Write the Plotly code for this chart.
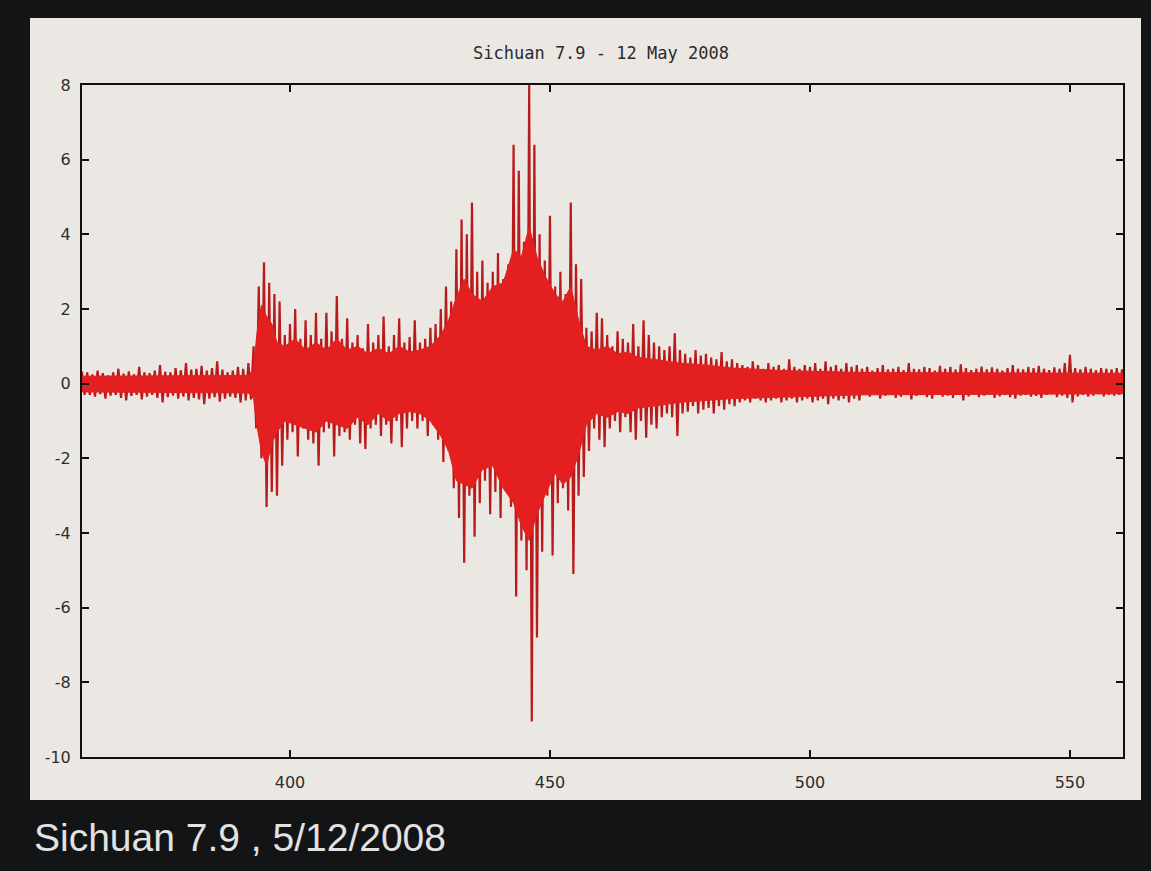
import plotly.graph_objects as go

# Sampling seconds (one spike pair per second, t = 360 ... 560)
t_start = 360
t_step = 1.0

# Upper spike peaks, one per second
upper = [
    # 360-392 pre-event noise
    0.32,
    0.30, 0.25, 0.35, 0.28, 0.22, 0.30, 0.40, 0.27, 0.33, 0.25, 0.45, 0.30, 0.28, 0.35, 0.50, 0.32,
    0.30, 0.42, 0.36, 0.55, 0.38, 0.40, 0.48, 0.35, 0.42, 0.60, 0.38, 0.30, 0.35, 0.45, 0.40, 0.55,
    # 393-409 first arrival
    1.00, 2.60, 3.25, 2.70, 2.40, 2.20, 1.30, 1.60, 2.00, 1.20, 1.70, 1.30, 1.90, 1.20, 1.90, 1.40, 2.35,
    # 410-428
    1.20, 1.75, 1.10, 1.30, 0.95, 1.60, 1.10, 1.30, 1.80, 1.00, 1.30, 1.75, 1.10, 1.25, 1.70, 1.10,
    1.20, 1.50, 1.60,
    # 429-459 main shaking
    2.00, 2.60, 2.20, 3.60, 4.40, 4.00, 4.85, 3.00, 3.30, 2.70, 3.00, 3.50, 2.80, 3.20, 6.40, 5.70,
    3.80, 8.00, 6.40, 4.00, 3.30, 4.50, 2.60, 3.00, 2.40, 4.85, 3.20, 2.80, 1.50, 1.40, 1.90,
    # 460-475
    1.75, 1.30, 1.00, 1.40, 1.20, 1.10, 1.60, 1.00, 1.70, 1.30, 1.10, 1.00, 0.90, 1.00, 1.35, 0.90,
    # 476-485
    0.80, 0.70, 0.90, 0.75, 0.80, 0.70, 0.65, 0.85, 0.60, 0.65,
    # 486-509
    0.55, 0.50, 0.45, 0.60, 0.50, 0.40, 0.55, 0.45, 0.50, 0.40, 0.65, 0.45, 0.40, 0.50, 0.45, 0.55,
    0.40, 0.60, 0.45, 0.50, 0.40, 0.55, 0.45, 0.50,
    # 510-560 coda
    0.40, 0.45, 0.35, 0.42, 0.50, 0.38, 0.40, 0.45, 0.36, 0.55, 0.40, 0.38, 0.45, 0.42, 0.35, 0.48,
    0.40, 0.45, 0.38, 0.52, 0.42, 0.36, 0.40, 0.46, 0.38, 0.44, 0.40, 0.35, 0.42, 0.50, 0.40, 0.38,
    0.45, 0.42, 0.48, 0.40, 0.36, 0.44, 0.40, 0.55, 0.77, 0.42, 0.38, 0.45, 0.40, 0.36, 0.42, 0.40,
    0.38, 0.42, 0.38,
]

# Lower spike troughs, one per second
lower = [
    # 360-392
    -0.30,
    -0.30, -0.35, -0.28, -0.40, -0.32, -0.30, -0.38, -0.45, -0.33, -0.30, -0.42, -0.35, -0.30, -0.38, -0.50, -0.36,
    -0.32, -0.40, -0.35, -0.45, -0.38, -0.42, -0.55, -0.40, -0.36, -0.48, -0.40, -0.35, -0.38, -0.50, -0.45, -0.42,
    # 393-409
    -1.20, -2.00, -3.30, -2.90, -3.00, -2.20, -1.50, -1.30, -1.95, -1.20, -1.50, -1.60, -2.20, -1.30, -1.20, -1.95, -1.40,
    # 410-428
    -1.30, -1.50, -1.10, -1.60, -1.75, -1.20, -1.10, -1.40, -1.10, -1.60, -1.00, -1.70, -1.20, -1.00, -1.20, -1.00,
    -1.40, -1.10, -1.50,
    # 429-459
    -2.10, -1.80, -2.80, -3.60, -4.80, -3.00, -4.10, -3.20, -2.60, -3.50, -2.90, -3.60, -2.60, -3.30, -5.70, -4.20,
    -5.00, -9.05, -6.80, -4.50, -3.00, -4.60, -3.20, -2.80, -3.40, -5.10, -3.00, -2.50, -1.80, -1.20, -1.50,
    # 460-475
    -1.70, -1.20, -1.00, -1.30, -0.90, -1.30, -1.50, -1.00, -1.45, -1.10, -1.20, -0.90, -0.80, -0.90, -1.40, -0.80,
    # 476-485
    -0.75, -0.60, -0.80, -0.70, -0.65, -0.80, -0.60, -0.70, -0.55, -0.60,
    # 486-509
    -0.50, -0.45, -0.50, -0.40, -0.45, -0.50, -0.45, -0.40, -0.50, -0.45, -0.40, -0.50, -0.45, -0.40, -0.50, -0.45,
    -0.40, -0.55, -0.40, -0.45, -0.40, -0.50, -0.40, -0.45,
    # 510-560
    -0.30, -0.35, -0.28, -0.40, -0.32, -0.30, -0.38, -0.35, -0.30, -0.42, -0.33, -0.30, -0.36, -0.40, -0.28, -0.35,
    -0.32, -0.38, -0.30, -0.45, -0.34, -0.30, -0.36, -0.32, -0.28, -0.38, -0.34, -0.30, -0.36, -0.40, -0.32, -0.30,
    -0.35, -0.33, -0.38, -0.30, -0.28, -0.36, -0.32, -0.38, -0.50, -0.34, -0.30, -0.35, -0.32, -0.28, -0.34, -0.30,
    -0.32, -0.30, -0.33,
]

# Solid core of the trace (where the oscillations blur into a filled band)
body_t = [360, 392, 393, 393.6, 394.5, 395.5, 396.5, 397.5, 399, 401, 403, 405, 407, 409, 411, 413,
          415, 417, 419, 421, 423, 425, 427, 429, 430.5, 432, 433.5, 435, 437, 439, 441, 443,
          444.5, 446, 447.5, 449, 451, 452.5, 454, 455.5, 457, 459, 461, 463, 465, 467, 470, 475,
          480, 485, 495, 510, 560.2]
body_up = [0.20, 0.22, 0.40, 1.30, 2.10, 1.80, 1.60, 1.10, 1.00, 1.20, 0.90, 1.10, 0.90, 1.20, 0.90, 1.00,
           0.80, 0.95, 0.80, 1.00, 0.85, 0.90, 1.00, 1.30, 1.70, 2.30, 2.80, 2.40, 2.20, 2.60, 2.70, 3.60,
           3.40, 4.20, 3.40, 2.90, 2.40, 2.20, 2.60, 1.70, 1.00, 0.90, 1.00, 0.80, 0.85, 0.70, 0.65, 0.55,
           0.50, 0.42, 0.35, 0.30, 0.28]
body_low = [-0.22, -0.25, -0.40, -1.10, -1.80, -2.20, -1.60, -1.30, -1.00, -1.10, -1.20, -1.30, -1.00, -1.10, -1.20, -0.90,
            -1.10, -0.80, -1.00, -0.80, -0.75, -0.80, -1.00, -1.40, -1.80, -2.60, -2.70, -2.80, -2.30, -2.20, -2.80, -3.20,
            -3.80, -4.20, -3.50, -3.00, -2.40, -2.70, -2.50, -1.90, -1.10, -0.80, -0.90, -0.75, -0.80, -0.65, -0.60, -0.50,
            -0.45, -0.40, -0.35, -0.30, -0.27]

x_ticks = [400, 450, 500, 550]
x_tick_labels = ["400", "450", "500", "550"]
y_ticks = [-10, -8, -6, -4, -2, 0, 2, 4, 6, 8]
y_tick_labels = ["-10", "-8", "-6", "-4", "-2", "0", "2", "4", "6", "8"]

chart_title = "Sichuan 7.9 - 12 May 2008"
caption = "Sichuan 7.9 , 5/12/2008"

# Zig-zag spikes: peak at t, trough half a sample later
xs, ys = [], []
for i, (u, l) in enumerate(zip(upper, lower)):
    t = t_start + i * t_step
    xs += [t, t + t_step / 2]
    ys += [u, l]

fig = go.Figure()
fig.add_trace(go.Scatter(
    x=xs, y=ys, mode="lines",
    line=dict(color="#b81b1b", width=2.2),
    hoverinfo="skip", showlegend=False,
))
fig.add_trace(go.Scatter(
    x=body_t + body_t[::-1], y=body_up + body_low[::-1],
    mode="lines", fill="toself", fillcolor="#e3201f",
    line=dict(color="#e3201f", width=1),
    hoverinfo="skip", showlegend=False,
))

W, H = 1151, 871
ml, mr, mt, mb = 82, 28, 85, 114
pw, ph = W - ml - mr, H - mt - mb

def px_to_paper_x(px):
    return (px - ml) / pw

def px_to_paper_y(py):
    return (H - mb - py) / ph

fig.add_shape(
    type="rect", xref="paper", yref="paper", layer="below",
    x0=px_to_paper_x(30), x1=px_to_paper_x(1141),
    y0=px_to_paper_y(800), y1=px_to_paper_y(18),
    fillcolor="#ebe8e3", line=dict(width=0),
)

fig.add_annotation(
    text=chart_title, xref="paper", yref="paper",
    x=px_to_paper_x(601), y=px_to_paper_y(53),
    xanchor="center", yanchor="middle", showarrow=False,
    font=dict(family="DejaVu Sans Mono", size=17, color="#2a2a2a"),
)
fig.add_annotation(
    text=caption, xref="paper", yref="paper",
    x=px_to_paper_x(32), y=px_to_paper_y(838),
    xanchor="left", yanchor="middle", showarrow=False,
    font=dict(family="Liberation Sans, Arial, sans-serif", size=39, color="#e2e2e2"),
)

axis_common = dict(
    showline=True, linecolor="#111111", linewidth=2, mirror="ticks",
    ticks="inside", ticklen=7, tickwidth=2, tickcolor="#111111",
    showgrid=False, zeroline=False,
    tickfont=dict(family="DejaVu Sans", size=16, color="#2e2e2e"),
)

fig.update_xaxes(range=[360, 560.2], tickvals=x_ticks, ticktext=x_tick_labels,
                 ticklabelstandoff=10, **axis_common)
fig.update_yaxes(range=[-10, 8], tickvals=y_ticks, ticktext=y_tick_labels,
                 ticklabelstandoff=6, **axis_common)

fig.update_layout(
    width=W, height=H,
    margin=dict(l=ml, r=mr, t=mt, b=mb, autoexpand=False),
    paper_bgcolor="#121416",
    plot_bgcolor="rgba(0,0,0,0)",
)

fig.write_html(
    "out.html",
    config={"displayModeBar": False},
    post_script="document.body.style.margin='0px';document.body.style.background='#121416';",
)
